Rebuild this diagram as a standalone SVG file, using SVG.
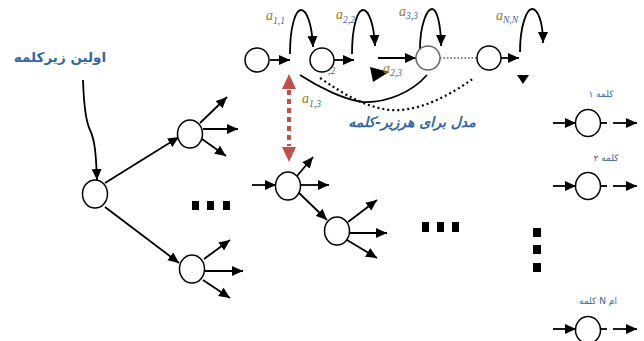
<svg xmlns="http://www.w3.org/2000/svg" width="644" height="341" viewBox="0 0 644 341">
<defs>
<marker id="ah" markerUnits="userSpaceOnUse" markerWidth="12" markerHeight="10" refX="11" refY="5" orient="auto"><path d="M0,0 L11,5 L0,10 z" fill="#000"/></marker>
<marker id="rh" markerUnits="userSpaceOnUse" markerWidth="16" markerHeight="14" refX="15" refY="7" orient="auto"><path d="M0,0 L15,7 L0,14 z" fill="#c0504d"/></marker>
<style>
.n{fill:#fff;stroke:#000;stroke-width:1.5}
.g{fill:#fff;stroke:#666;stroke-width:1.5}
.e{fill:none;stroke:#000;stroke-width:1.8;marker-end:url(#ah)}
.l{fill:none;stroke:#000;stroke-width:1.8}
.dot{fill:none;stroke:#000;stroke-width:2.2;stroke-dasharray:2,3}
.sq{fill:#000}
.a{font-family:"Liberation Serif",serif;font-style:italic;font-size:14px;fill:#9c7a2a}
.s{font-family:"Liberation Serif",serif;font-style:italic;font-size:9.5px;fill:#3a5fa8}
.fa{font-family:"DejaVu Sans",sans-serif;font-weight:bold;fill:#3565a8}
.fs{font-family:"DejaVu Sans",sans-serif;font-size:9px;fill:#3565a8}
</style>
</defs>
<g id="connectors">
<line class="e" x1="270" y1="60" x2="290" y2="60"/>
<path class="e" d="M290,54 C290,25 296,10 301,10 C307,10 312,25 313,47"/>
<line class="e" x1="334" y1="60" x2="354" y2="60"/>
<path class="e" d="M352,54 C352,25 358,10 363,10 C369,10 374,25 375,46"/>
<line class="e" x1="378" y1="58" x2="416" y2="58"/>
<path class="e" d="M420,49 C420,25 427,9 432,9 C437,9 441,25 441,46"/>
<line x1="440" y1="58" x2="477" y2="58" stroke="#000" stroke-width="1.2" stroke-dasharray="1.5,2"/>
<line class="e" x1="501" y1="58" x2="519" y2="58"/>
<path class="e" d="M520,52 C520,25 527,9 532,9 C538,9 543,22 543,43"/>
<polygon points="370,67 389,72 373,82" fill="#000"/>
<polygon points="517,75 529,75 523,84" fill="#000"/>
<path class="l" d="M300,75 C320,88 345,100 363,102 C387,103 412,92 427,75"/>
<path class="dot" d="M320,78 C345,95 365,107 390,110 C420,112 450,95 474,78"/>
<line x1="289" y1="90" x2="289" y2="146" stroke="#c0504d" stroke-width="4" stroke-dasharray="5,4"/>
<line x1="289" y1="90" x2="289" y2="74" stroke="#c0504d" stroke-width="0.1" marker-end="url(#rh)"/>
<line x1="289" y1="146" x2="289" y2="162" stroke="#c0504d" stroke-width="0.1" marker-end="url(#rh)"/>
<path class="e" d="M83,80 C84,110 86,122 90,130 C95,140 96,155 97,180"/>
<line class="e" x1="105" y1="183" x2="179" y2="137"/>
<line class="e" x1="105" y1="207" x2="179" y2="263"/>
<line class="e" x1="200" y1="123" x2="227" y2="97"/>
<line class="e" x1="203" y1="129" x2="238" y2="129"/>
<line class="e" x1="202" y1="139" x2="226" y2="156"/>
<line class="e" x1="204" y1="259" x2="230" y2="240"/>
<line class="e" x1="205" y1="271" x2="243" y2="271"/>
<line class="e" x1="203" y1="280" x2="230" y2="298"/>
<line class="e" x1="252" y1="185" x2="276" y2="185"/>
<line class="e" x1="297" y1="176" x2="313" y2="157"/>
<line class="e" x1="301" y1="185" x2="329" y2="185"/>
<line class="e" x1="298" y1="192" x2="327" y2="220"/>
<line class="e" x1="348" y1="222" x2="377" y2="200"/>
<line class="e" x1="350" y1="233" x2="387" y2="233"/>
<line class="e" x1="347" y1="240" x2="377" y2="258"/>
<line class="e" x1="553" y1="123" x2="576" y2="123"/>
<line class="l" x1="600" y1="123" x2="607" y2="123"/>
<line class="e" x1="613" y1="123" x2="637" y2="123"/>
<line class="e" x1="553" y1="186" x2="576" y2="186"/>
<line class="l" x1="600" y1="186" x2="607" y2="186"/>
<line class="e" x1="613" y1="186" x2="637" y2="186"/>
<line class="e" x1="553" y1="329" x2="576" y2="329"/>
<line class="l" x1="600" y1="329" x2="607" y2="329"/>
<line class="e" x1="613" y1="329" x2="637" y2="329"/>
</g>
<g id="node-t1"><circle class="n" cx="257" cy="60" r="12"/></g>
<g id="node-t2"><circle class="n" cx="322" cy="60" r="12"/></g>
<g id="node-t3"><circle class="g" cx="428" cy="58" r="12"/></g>
<g id="node-t4"><circle class="n" cx="489" cy="58" r="12"/></g>
<g id="node-a"><ellipse class="n" cx="95" cy="194" rx="12.5" ry="14"/></g>
<g id="node-b"><ellipse class="n" cx="190" cy="134" rx="12.5" ry="14"/></g>
<g id="node-c"><ellipse class="n" cx="192" cy="269" rx="12.5" ry="14"/></g>
<g id="node-d"><ellipse class="n" cx="288" cy="186" rx="12.5" ry="14"/></g>
<g id="node-e"><ellipse class="n" cx="337" cy="231" rx="12.5" ry="14"/></g>
<g id="node-w1"><ellipse class="n" cx="588" cy="123" rx="12.5" ry="13.5"/></g>
<g id="node-w2"><ellipse class="n" cx="588" cy="186" rx="12.5" ry="13.5"/></g>
<g id="node-wn"><ellipse class="n" cx="588" cy="330" rx="12.5" ry="13.5"/></g>
<g id="ellipses">
<rect class="sq" x="192" y="201" width="7" height="9"/>
<rect class="sq" x="207" y="201" width="7" height="9"/>
<rect class="sq" x="223" y="201" width="7" height="9"/>
<rect class="sq" x="422" y="222" width="7" height="10"/>
<rect class="sq" x="437" y="222" width="7" height="10"/>
<rect class="sq" x="452" y="222" width="7" height="10"/>
<rect class="sq" x="533" y="228" width="8" height="9"/>
<rect class="sq" x="533" y="245" width="8" height="9"/>
<rect class="sq" x="533" y="263" width="8" height="9"/>
</g>
<g id="labels">
<text class="a" x="266" y="20">a</text><text class="s" x="273" y="24">1,1</text>
<text class="a" x="336" y="19">a</text><text class="s" x="343" y="23">2,2</text>
<text class="a" x="399" y="16">a</text><text class="s" x="406" y="19">3,3</text>
<text class="a" x="496" y="20">a</text><text class="s" x="503" y="23">N,N</text>
<text class="s" x="328" y="74">,2</text>
<text class="a" x="383" y="73">a</text><text class="s" x="390" y="76">2,3</text>
<text class="a" x="302" y="103">a</text><text class="s" x="309" y="107">1,3</text>
<text class="fa" x="412" y="127" font-size="14" font-style="italic" text-anchor="middle">مدل برای هرزیر-کلمه</text>
<text class="fa" x="60" y="62" font-size="13.5" text-anchor="middle">اولین زیرکلمه</text>
<text class="fs" x="601" y="97" text-anchor="middle">کلمه ۱</text>
<text class="fs" x="606" y="161" text-anchor="middle">کلمه ۲</text>
<text class="fs" x="598" y="304" text-anchor="middle">کلمه N ام</text>
</g>
</svg>
